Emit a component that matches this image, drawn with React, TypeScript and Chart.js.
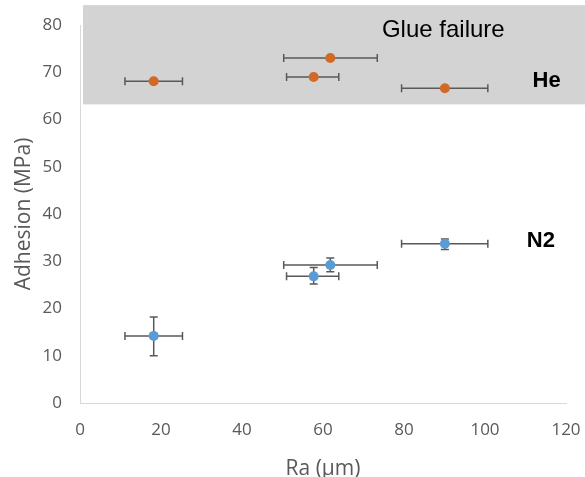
import React, { useEffect, useRef } from "react";
import { Chart, registerables } from "chart.js";

Chart.register(...registerables);

// He (glue failure) series
const heX = [18.2, 61.8, 57.7, 90.1];
const heY = [68.1, 73.0, 69.0, 66.6];
const heXMin = [11.1, 50.3, 51.0, 79.4];
const heXMax = [25.3, 73.4, 63.9, 100.7];

// N2 series
const n2X = [18.2, 61.8, 57.7, 90.1];
const n2Y = [14.2, 29.2, 26.8, 33.7];
const n2XMin = [11.1, 50.3, 51.0, 79.4];
const n2XMax = [25.3, 73.4, 63.9, 100.7];
const n2YMin = [10.0, 27.8, 25.2, 32.5];
const n2YMax = [18.2, 30.7, 28.7, 34.7];

const xTicks = [0, 20, 40, 60, 80, 100, 120];
const yTicks = [0, 10, 20, 30, 40, 50, 60, 70, 80];

// Glue failure band (value range)
const bandYMin = 63.2;
const bandYMax = 84.2;

const errColor = "#595959";
const fontFamily = "'Open Sans', Lato, sans-serif";
const labelFamily = "'Liberation Sans', Arial, sans-serif";

const overlayPlugin = {
  id: "overlay",
  beforeDatasetsDraw(chart: any) {
    const { ctx, scales } = chart;
    const xs = scales.x;
    const ys = scales.y;
    ctx.save();
    // band
    const left = xs.getPixelForValue(0) + 3;
    const top = ys.getPixelForValue(bandYMax);
    const bottom = ys.getPixelForValue(bandYMin);
    ctx.fillStyle = "#d3d3d3";
    ctx.fillRect(left, top, chart.width - left, bottom - top);

    // error bars
    ctx.strokeStyle = errColor;
    ctx.lineWidth = 1.5;
    const cap = 4;
    const hbar = (y: number, x0: number, x1: number) => {
      const py = ys.getPixelForValue(y);
      const p0 = xs.getPixelForValue(x0);
      const p1 = xs.getPixelForValue(x1);
      ctx.beginPath();
      ctx.moveTo(p0, py);
      ctx.lineTo(p1, py);
      ctx.moveTo(p0, py - cap);
      ctx.lineTo(p0, py + cap);
      ctx.moveTo(p1, py - cap);
      ctx.lineTo(p1, py + cap);
      ctx.stroke();
    };
    const vbar = (x: number, y0: number, y1: number) => {
      const px = xs.getPixelForValue(x);
      const p0 = ys.getPixelForValue(y0);
      const p1 = ys.getPixelForValue(y1);
      ctx.beginPath();
      ctx.moveTo(px, p0);
      ctx.lineTo(px, p1);
      ctx.moveTo(px - cap, p0);
      ctx.lineTo(px + cap, p0);
      ctx.moveTo(px - cap, p1);
      ctx.lineTo(px + cap, p1);
      ctx.stroke();
    };
    heX.forEach((_, i) => hbar(heY[i], heXMin[i], heXMax[i]));
    n2X.forEach((x, i) => {
      hbar(n2Y[i], n2XMin[i], n2XMax[i]);
      vbar(x, n2YMin[i], n2YMax[i]);
    });

    // labels
    ctx.fillStyle = "#000";
    ctx.textAlign = "center";
    ctx.textBaseline = "alphabetic";
    ctx.font = `24px ${labelFamily}`;
    ctx.fillText("Glue failure", xs.getPixelForValue(89.7), ys.getPixelForValue(77.4));
    ctx.font = `bold 22px ${labelFamily}`;
    ctx.fillText("He", xs.getPixelForValue(115.2), ys.getPixelForValue(66.9));
    ctx.fillText("N2", xs.getPixelForValue(113.8), ys.getPixelForValue(33.0));
    ctx.restore();
  },
};

export default function App() {
  const ref = useRef<HTMLCanvasElement | null>(null);
  useEffect(() => {
    if (!ref.current) return;
    const tickFont = { family: fontFamily, size: 17 };
    const titleFont = { family: fontFamily, size: 21 };
    const chart = new Chart(ref.current, {
      type: "scatter",
      data: {
        datasets: [
          {
            label: "He",
            data: heX.map((x, i) => ({ x, y: heY[i] })),
            backgroundColor: "#D06A25",
            borderColor: "#D06A25",
            pointRadius: 5,
            borderWidth: 0,
          },
          {
            label: "N2",
            data: n2X.map((x, i) => ({ x, y: n2Y[i] })),
            backgroundColor: "#5B9BD5",
            borderColor: "#5B9BD5",
            pointRadius: 5,
            borderWidth: 0,
          },
        ],
      },
      options: {
        animation: false,
        responsive: false,
        maintainAspectRatio: false,
        layout: { padding: { top: 25, right: 19, left: 0, bottom: 0 } },
        plugins: {
          legend: { display: false },
          tooltip: { enabled: false },
        },
        scales: {
          x: {
            type: "linear",
            min: 0,
            max: 120,
            afterBuildTicks: (s: any) => {
              s.ticks = xTicks.map((v) => ({ value: v }));
            },
            afterFit: (s: any) => {
              s.height = 79;
              s.paddingLeft = 0;
              s.paddingRight = 0;
            },
            grid: { display: false, drawTicks: false },
            border: { display: true, color: "#d9d9d9", width: 1 },
            ticks: { color: "#595959", font: tickFont, padding: 17, maxRotation: 0 },
            title: {
              display: true,
              text: "Ra (µm)",
              color: "#595959",
              font: titleFont,
              padding: { top: 0, bottom: 0 },
            },
          },
          y: {
            type: "linear",
            min: 0,
            max: 80,
            afterBuildTicks: (s: any) => {
              s.ticks = yTicks.map((v) => ({ value: v }));
            },
            afterFit: (s: any) => {
              s.width = 80;
              s.paddingTop = 0;
              s.paddingBottom = 0;
            },
            grid: { display: false, drawTicks: false },
            border: { display: true, color: "#d9d9d9", width: 1 },
            ticks: { color: "#595959", font: tickFont, padding: 18 },
            title: {
              display: true,
              text: "Adhesion (MPa)",
              color: "#595959",
              font: titleFont,
              padding: { top: 11, bottom: 0 },
            },
          },
        },
      },
      plugins: [overlayPlugin],
    });
    return () => chart.destroy();
  }, []);
  return (
    <div
      style={{
        position: "fixed",
        left: 0,
        top: 0,
        width: 585,
        height: 477,
        overflow: "hidden",
        background: "#fff",
      }}
    >
      <canvas ref={ref} width={585} height={482} style={{ width: 585, height: 482, display: "block" }} />
    </div>
  );
}
